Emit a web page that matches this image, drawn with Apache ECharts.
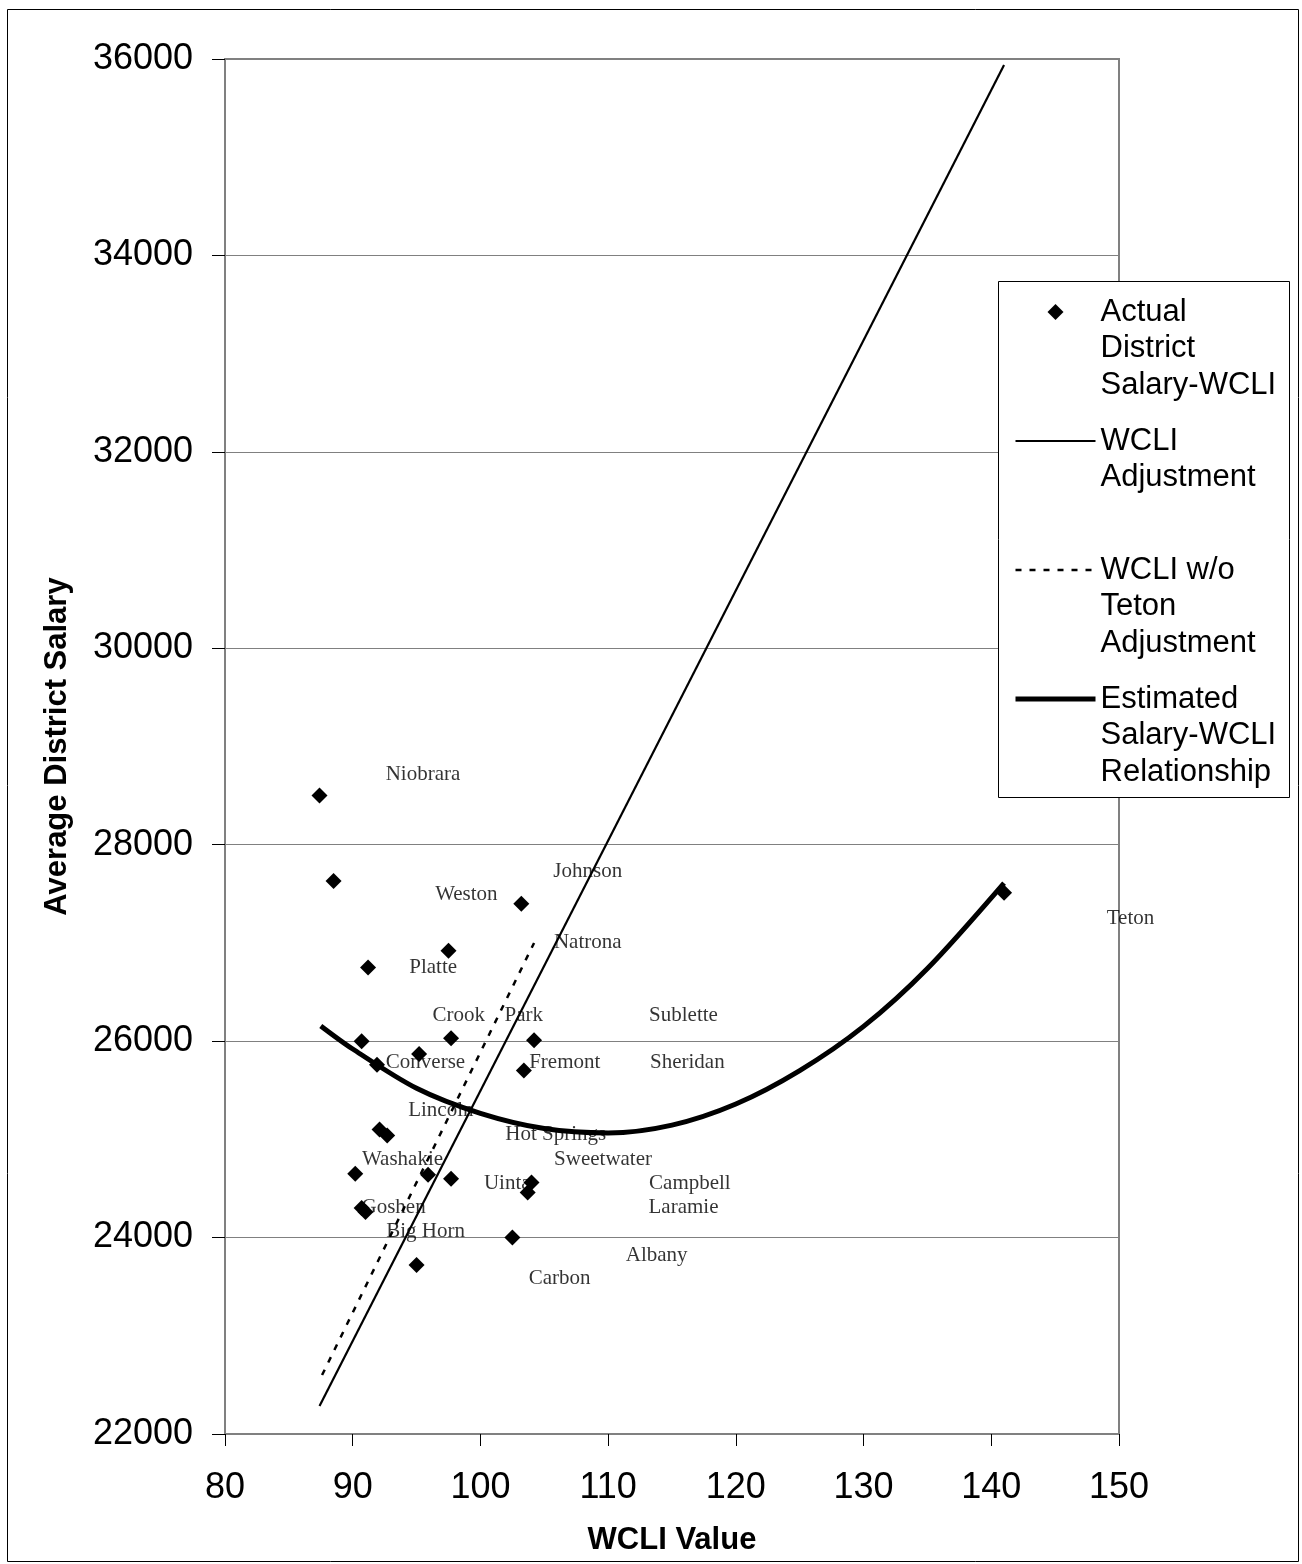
<!DOCTYPE html>
<html>
<head>
<meta charset="utf-8">
<script src="https://cdn.jsdelivr.net/npm/echarts@6/dist/echarts.min.js"></script>
<style>
html,body{margin:0;padding:0;background:#fff;}
#chart{width:1302px;height:1564px;}
</style>
</head>
<body>
<div id="chart"></div>
<script>
// Actual district points (WCLI value, average salary)
const pointWcli = [87.4, 88.5, 103.2, 97.5, 91.2, 90.7, 97.7, 104.2, 95.2, 91.9, 103.4, 92.1, 92.7, 90.2, 95.9, 97.7, 104.0, 103.7, 90.7, 91.0, 102.5, 95.0, 141.0];
const pointSalary = [28500, 27630, 27400, 26920, 26750, 26000, 26030, 26010, 25870, 25760, 25700, 25100, 25040, 24650, 24640, 24600, 24560, 24460, 24300, 24260, 24000, 23720, 27510];

// District labels and where they sit (data coordinates)
const labelNames = ["Niobrara", "Johnson", "Weston", "Natrona", "Platte", "Crook", "Park", "Sublette", "Converse", "Fremont", "Sheridan", "Lincoln", "Hot Springs", "Sweetwater", "Washakie", "Uinta", "Campbell", "Goshen", "Laramie", "Big Horn", "Albany", "Carbon", "Teton"];
const labelWcli = [95.5, 108.4, 98.9, 108.4, 96.3, 98.3, 103.4, 115.9, 95.7, 106.6, 116.2, 96.9, 105.9, 109.6, 93.9, 102.1, 116.4, 93.2, 115.9, 95.7, 113.8, 106.2, 150.9];
const labelSalary = [28710, 27730, 27490, 27000, 26755, 26265, 26265, 26265, 25780, 25780, 25780, 25290, 25045, 24800, 24800, 24555, 24555, 24310, 24310, 24065, 23820, 23580, 27245];

// WCLI adjustment line
const adjWcli = [87.4, 141.0];
const adjSalary = [22285, 35940];

// WCLI w/o Teton adjustment line
const noTetonWcli = [87.6, 104.2];
const noTetonSalary = [22600, 27000];

// Estimated salary-WCLI relationship curve
const estWcli = [87.5, 90, 95, 100, 105, 110, 115, 120, 125, 130, 135, 141];
const estSalary = [26155, 25920, 25520, 25265, 25110, 25065, 25145, 25360, 25700, 26150, 26740, 27610];

const xTicks = {min: 80, max: 150, interval: 10};
const yTicks = {min: 22000, max: 36000, interval: 2000};

const seriesNames = ["Actual District Salary-WCLI", "WCLI Adjustment", "WCLI w/o Teton Adjustment", "Estimated Salary-WCLI Relationship"];
const legendLines = {
  "Actual District Salary-WCLI": ["Actual", "District", "Salary-WCLI"],
  "WCLI Adjustment": ["WCLI", "Adjustment"],
  "WCLI w/o Teton Adjustment": ["WCLI w/o", "Teton", "Adjustment"],
  "Estimated Salary-WCLI Relationship": ["Estimated", "Salary-WCLI", "Relationship"]
};

const zip = (a, b) => a.map((v, i) => [v, b[i]]);

const chart = echarts.init(document.getElementById('chart'), null, {renderer: 'canvas'});
const LH = 36.5;
const option = {
  backgroundColor: '#fff',
  animation: false,
  grid: {left: 225, top: 59, right: 183, bottom: 130, show: true, borderColor: '#808080', borderWidth: 2, backgroundColor: 'transparent'},
  xAxis: {
    type: 'value', min: xTicks.min, max: xTicks.max, interval: xTicks.interval,
    name: 'WCLI Value', nameLocation: 'middle', nameGap: 91,
    nameTextStyle: {fontFamily: 'Liberation Sans, Arial, sans-serif', fontWeight: 'bold', fontSize: 31, color: '#000'},
    axisLine: {show: true, onZero: false, lineStyle: {color: '#808080', width: 2}},
    axisTick: {show: true, inside: false, length: 12, lineStyle: {color: '#000', width: 1}},
    axisLabel: {fontFamily: 'Liberation Sans, Arial, sans-serif', fontSize: 36, color: '#000', margin: 36},
    splitLine: {show: false}
  },
  yAxis: {
    type: 'value', min: yTicks.min, max: yTicks.max, interval: yTicks.interval,
    name: 'Average District Salary', nameLocation: 'middle', nameGap: 152,
    nameTextStyle: {fontFamily: 'Liberation Sans, Arial, sans-serif', fontWeight: 'bold', fontSize: 31, color: '#000'},
    axisLine: {show: true, onZero: false, lineStyle: {color: '#808080', width: 2}},
    axisTick: {show: true, inside: false, length: 13, lineStyle: {color: '#000', width: 1}},
    axisLabel: {fontFamily: 'Liberation Sans, Arial, sans-serif', fontSize: 36, color: '#000', margin: 32,
      formatter: v => String(v)},
    splitLine: {show: true, lineStyle: {color: '#808080', width: 1}}
  },
  legend: {
    orient: 'vertical',
    left: 1013,
    top: 312 - 2.5 * LH,
    padding: 0,
    itemGap: 129 - 5 * LH,
    itemWidth: 80,
    itemHeight: 16,
    selectedMode: false,
    z: 10,
    textStyle: {
      fontFamily: 'Liberation Sans, Arial, sans-serif',
      fontSize: 31,
      color: '#000',
      lineHeight: LH
    },
    data: [
      {name: seriesNames[0], icon: 'path://M0,0M80,16M40,0L48,8L40,16L32,8Z', itemStyle: {color: '#000', opacity: 1}},
      {name: seriesNames[1], itemStyle: {opacity: 0}, lineStyle: {width: 2.2}},
      {name: seriesNames[2], itemStyle: {opacity: 0}, lineStyle: {width: 2.5}},
      {name: seriesNames[3], itemStyle: {opacity: 0}, lineStyle: {width: 5}}
    ],
    formatter: function (name) {
      const lines = legendLines[name];
      const pre = ['', ''];
      const post = [];
      for (let i = lines.length; i < 3; i++) post.push('');
      return pre.concat(lines, post).join('\n');
    }
  },
  graphic: [
    {type: 'rect', left: 5, top: 7, shape: {width: 1291, height: 1552}, style: {fill: 'none', stroke: '#000', lineWidth: 1}, z: 0, silent: true},
    {type: 'rect', left: 998, top: 281, shape: {width: 291, height: 516}, style: {fill: '#fff', stroke: '#000', lineWidth: 1}, z: 3, silent: true}
  ],
  series: [
    {
      name: seriesNames[0], type: 'scatter', symbol: 'diamond', symbolSize: 16,
      itemStyle: {color: '#000', opacity: 1}, data: zip(pointWcli, pointSalary), z: 4
    },
    {
      name: seriesNames[1], type: 'line', showSymbol: false, symbol: 'none',
      lineStyle: {color: '#000', width: 2.2}, itemStyle: {color: '#000'},
      data: zip(adjWcli, adjSalary), z: 2
    },
    {
      name: seriesNames[2], type: 'line', showSymbol: false, symbol: 'none',
      lineStyle: {color: '#000', width: 2.5, type: [6, 8]}, itemStyle: {color: '#000'},
      data: zip(noTetonWcli, noTetonSalary), z: 2
    },
    {
      name: seriesNames[3], type: 'line', showSymbol: false, symbol: 'none', smooth: 0.3,
      lineStyle: {color: '#000', width: 5}, itemStyle: {color: '#000'},
      data: zip(estWcli, estSalary), z: 2
    },
    {
      name: 'labels', type: 'scatter', symbolSize: 0, silent: true, clip: false, z: 5,
      label: {show: true, position: 'inside', formatter: '{b}', color: '#000',
        fontFamily: 'Liberation Serif, Times New Roman, serif', fontSize: 21},
      data: labelNames.map((n, i) => ({name: n, value: [labelWcli[i], labelSalary[i]]}))
    }
  ]
};
chart.setOption(option);
</script>
</body>
</html>
